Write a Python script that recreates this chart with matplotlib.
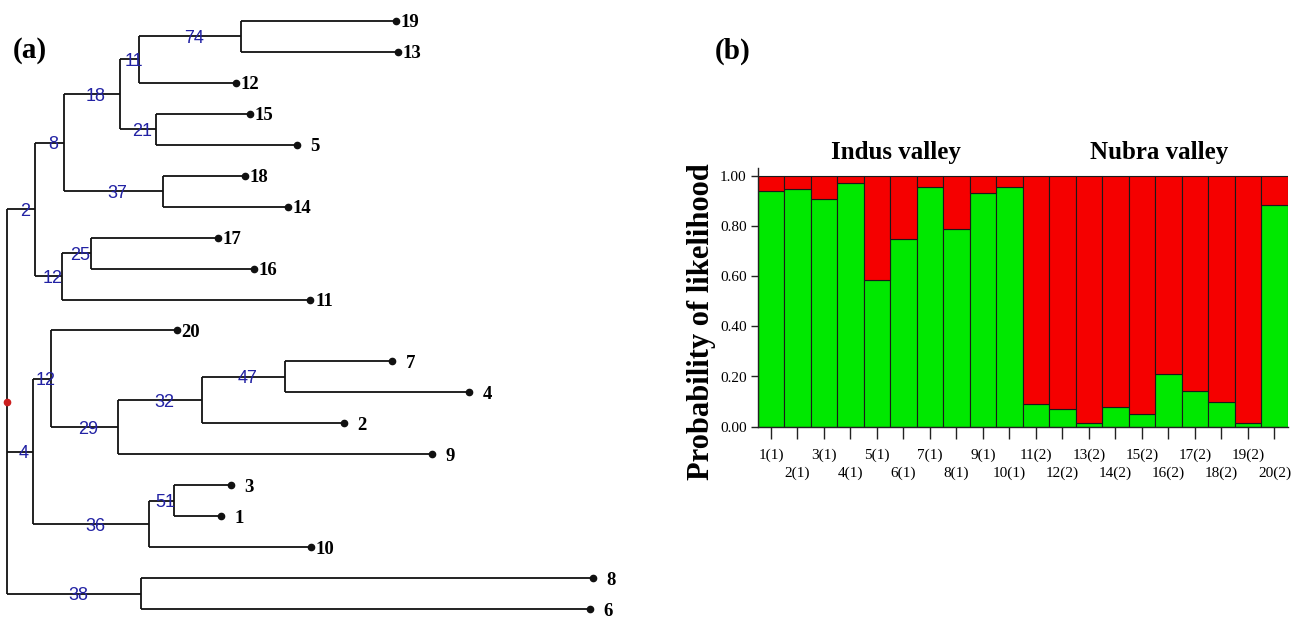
import matplotlib
matplotlib.use("Agg")
import matplotlib.pyplot as plt

# ===========================
# CONFIGURATION
# ===========================
W, H = 1297, 618
OUT_FILE = "out.png"
SERIF = ["Liberation Serif", "DejaVu Serif"]
NARROW = ["Liberation Sans Narrow", "Liberation Sans", "DejaVu Sans"]
BLUE = "#2222a4"
GREEN = "#00e800"
RED = "#f50000"

# ===========================
# DATA (a) - tree
# ===========================
# leaves from top to bottom
LEAF_ORDER = ["19", "13", "12", "15", "5", "18", "14", "17", "16", "11",
              "20", "7", "4", "2", "9", "3", "1", "10", "8", "6"]
# distance of every leaf tip from the left edge (tree units)
LEAF_TIP = [396, 398, 236, 250, 297, 245, 288, 218, 254, 310,
            177, 392, 469, 344, 432, 231, 221, 311, 593, 590]

# internal nodes, children listed before parents
NODE_ID = ["n74", "n11", "n21", "n18", "n37", "n8", "n25", "n12a", "n2",
           "n47", "n32", "n29", "n12b", "n51", "n36", "n4", "n38", "root"]
NODE_SUPPORT = [74, 11, 21, 18, 37, 8, 25, 12, 2,
                47, 32, 29, 12, 51, 36, 4, 38, None]
NODE_X = [241, 139, 156, 120, 163, 64, 91, 62, 35,
          285, 202, 118, 51, 174, 149, 33, 141, 7]
NODE_CHILDREN = [["19", "13"], ["n74", "12"], ["15", "5"], ["n11", "n21"],
                 ["18", "14"], ["n18", "n37"], ["17", "16"], ["n25", "11"],
                 ["n8", "n12a"], ["7", "4"], ["n47", "2"], ["n32", "9"],
                 ["20", "n29"], ["3", "1"], ["n51", "10"], ["n12b", "n36"],
                 ["8", "6"], ["n2", "n4", "n38"]]

# ===========================
# DATA (b) - structure bar plot
# ===========================
ACCESSIONS = ["1(1)", "2(1)", "3(1)", "4(1)", "5(1)", "6(1)", "7(1)", "8(1)",
              "9(1)", "10(1)", "11(2)", "12(2)", "13(2)", "14(2)", "15(2)",
              "16(2)", "17(2)", "18(2)", "19(2)", "20(2)"]
CLUSTER_GREEN = [0.939, 0.947, 0.906, 0.969, 0.584, 0.749, 0.954, 0.786, 0.932,
                 0.954, 0.090, 0.069, 0.015, 0.077, 0.049, 0.211, 0.142, 0.100,
                 0.015, 0.883]
CLUSTER_RED = [1.0 - g for g in CLUSTER_GREEN]
Y_TICKS = [0.0, 0.2, 0.4, 0.6, 0.8, 1.0]
GROUPS = ["Indus valley", "Nubra valley"]
GROUP_CENTER = [4.7, 14.65]


def draw_tree(ax):
    pos = {}
    for i, name in enumerate(LEAF_ORDER):
        pos[name] = (LEAF_TIP[i], i)
    for nid, x, kids in zip(NODE_ID, NODE_X, NODE_CHILDREN):
        ys = [pos[k][1] for k in kids]
        pos[nid] = (x, (ys[0] + ys[-1]) / 2.0)

    lw = 1.3
    for nid, sup, x, kids in zip(NODE_ID, NODE_SUPPORT, NODE_X, NODE_CHILDREN):
        ys = [pos[k][1] for k in kids]
        ax.plot([x, x], [ys[0], ys[-1]], color="#111111", lw=lw,
                solid_capstyle="butt")
        for k in kids:
            cx, cy = pos[k]
            ax.plot([x, cx], [cy, cy], color="#111111", lw=lw,
                    solid_capstyle="butt")
            if k in NODE_ID:
                s = NODE_SUPPORT[NODE_ID.index(k)]
                ax.text((x + cx) / 2.0 + 4, cy, str(s), color=BLUE,
                        fontsize=13, family=NARROW, ha="center",
                        va="center_baseline")

    # leaf tips
    tips_x = [pos[n][0] for n in LEAF_ORDER]
    tips_y = [pos[n][1] for n in LEAF_ORDER]
    ax.plot(tips_x, tips_y, "o", color="#111111", ms=4.5, ls="none")
    for n, tx, ty in zip(LEAF_ORDER, tips_x, tips_y):
        ax.text(tx + 23, ty, n, fontsize=13.5, family=SERIF,
                fontweight="bold", ha="right", va="center_baseline")

    rx, ry = pos["root"]
    ax.plot([rx], [ry], "o", color="#cc2020", ms=4.5)


def main():
    fig = plt.figure(figsize=(W / 100, H / 100), dpi=100)

    # ===========================
    # (a) TREE
    # ===========================
    ax_t = fig.add_axes([0, 0, 640 / W, 1])
    step = (609.3 - 20.7) / 19
    ax_t.set_xlim(0, 640)
    ax_t.set_ylim(19 + (H - 609.3) / step, -20.7 / step)
    ax_t.axis("off")
    draw_tree(ax_t)

    # ===========================
    # (b) STRUCTURE BARS
    # ===========================
    unit = 426.7 - 175.7
    ax_b = fig.add_axes([757.7 / W, 1 - 426.7 / H, 530 / W, unit * 1.03 / H])
    x = list(range(len(ACCESSIONS)))
    ax_b.bar(x, CLUSTER_GREEN, width=1.0, color=GREEN, edgecolor="#1a1a1a",
             linewidth=0.8)
    ax_b.bar(x, CLUSTER_RED, bottom=CLUSTER_GREEN, width=1.0, color=RED,
             edgecolor="#1a1a1a", linewidth=0.8)
    ax_b.set_xlim(-0.5, len(ACCESSIONS) - 0.5)
    ax_b.set_ylim(0, 1.03)
    for side in ["top", "right"]:
        ax_b.spines[side].set_visible(False)
    for side in ["left", "bottom"]:
        ax_b.spines[side].set_color("#222222")
        ax_b.spines[side].set_linewidth(1.0)

    ax_b.set_yticks(Y_TICKS)
    ax_b.set_yticklabels([f"{v:.2f}" for v in Y_TICKS], family=SERIF,
                         fontsize=11)
    ax_b.set_xticks(x)
    ax_b.set_xticklabels(ACCESSIONS, family=SERIF, fontsize=11)
    ax_b.tick_params(axis="y", direction="out", length=5, width=1.0,
                     pad=3, color="#222222")
    ax_b.tick_params(axis="x", direction="out", length=8.4, width=1.0,
                     pad=7, color="#222222")
    for tick in ax_b.xaxis.get_major_ticks()[1::2]:
        tick.set_pad(20.5)

    for name, cx in zip(GROUPS, GROUP_CENTER):
        ax_b.text(cx, 1.0 + (175.7 - 159) / unit, name, family=SERIF,
                  fontsize=18, fontweight="bold", ha="center",
                  va="baseline", clip_on=False)

    fig.text(701 / W, 1 - 322 / H, "Probability of likelihood", family=SERIF,
             fontsize=22, fontweight="bold", rotation=90, ha="center",
             va="center")

    # panel letters
    fig.text(30 / W, 1 - 51 / H, "(a)", family=SERIF, fontsize=21,
             fontweight="bold", ha="center", va="center")
    fig.text(733 / W, 1 - 51 / H, "(b)", family=SERIF, fontsize=21,
             fontweight="bold", ha="center", va="center")

    fig.savefig(OUT_FILE, dpi=100)


if __name__ == "__main__":
    main()
